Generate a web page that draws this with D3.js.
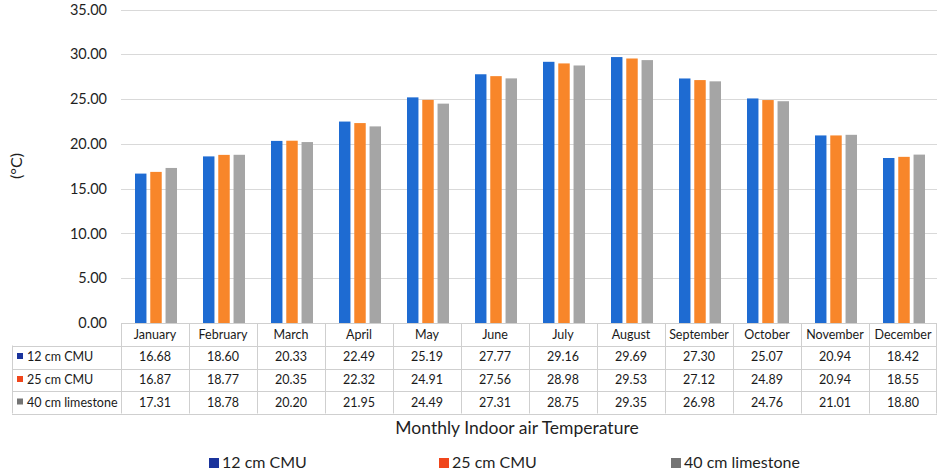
<!DOCTYPE html>
<html>
<head>
<meta charset="utf-8">
<script src="https://cdnjs.cloudflare.com/ajax/libs/d3/7.8.5/d3.min.js"></script>
<style>
  body { margin: 0; background: #fff; }
  svg { display: block; font-family: Lato, "Open Sans", sans-serif; }
</style>
</head>
<body>
<svg id="chart" width="941" height="472"></svg>
<script>
// data
var months = ["January", "February", "March", "April", "May", "June",
    "July", "August", "September", "October", "November", "December"];
var seriesNames = ["12 cm CMU", "25 cm CMU", "40 cm limestone"];
var cmu12 = [16.68, 18.60, 20.33, 22.49, 25.19, 27.77, 29.16, 29.69, 27.30, 25.07, 20.94, 18.42];
var cmu25 = [16.87, 18.77, 20.35, 22.32, 24.91, 27.56, 28.98, 29.53, 27.12, 24.89, 20.94, 18.55];
var lime40 = [17.31, 18.78, 20.20, 21.95, 24.49, 27.31, 28.75, 29.35, 26.98, 24.76, 21.01, 18.80];
var yTicks = [0, 5, 10, 15, 20, 25, 30, 35];

var barColors = ["#1e6bd2", "#f8862a", "#a5a5a5"];
var keyColors = ["#1a339c", "#f0461c", "#747474"];

var series = [cmu12, cmu25, lime40];

var svg = d3.select("#chart");
var plotLeft = 121, plotRight = 937, plotTop = 9.5, plotBottom = 323;

var x = d3.scaleBand().domain(months).range([plotLeft, plotRight]).paddingInner(0).paddingOuter(0);
var xInner = d3.scaleBand().domain(d3.range(3)).range([14, x.bandwidth() - 12]).paddingInner(0.25);
var y = d3.scaleLinear().domain([0, 35]).range([plotBottom, plotTop]);

// gridlines
svg.append("g").selectAll("line").data(yTicks.slice(1)).join("line")
    .attr("x1", plotLeft).attr("x2", plotRight)
    .attr("y1", function(d) { return Math.round(y(d)) + 0.5; })
    .attr("y2", function(d) { return Math.round(y(d)) + 0.5; })
    .attr("stroke", "#d9d9d9").attr("stroke-width", 1);

// y axis labels
var yAxis = d3.axisLeft(y).tickValues(yTicks).tickFormat(d3.format(".2f")).tickSize(0).tickPadding(0);
var ya = svg.append("g").attr("transform", "translate(107,0)").call(yAxis);
ya.select(".domain").remove();
ya.selectAll("text").attr("font-size", 14.5).attr("fill", "#1f1f1f")
    .attr("font-family", "Lato, sans-serif");

svg.append("text").attr("transform", "translate(22,166) rotate(-90)")
    .attr("text-anchor", "middle").attr("font-size", 16).attr("fill", "#1f1f1f")
    .text("(°C)");

// bars
series.forEach(function(vals, si) {
    svg.append("g").selectAll("rect").data(vals).join("rect")
        .attr("x", function(d, i) { return x(months[i]) + xInner(si); })
        .attr("width", xInner.bandwidth())
        .attr("y", function(d) { return y(d); })
        .attr("height", function(d) { return plotBottom - y(d); })
        .attr("fill", barColors[si]);
});

// data table
var tableLeft = 12;
var rowTops = [323, 345.5, 368.5, 391];
var tableBottom = 413.5;
var grid = svg.append("g").attr("stroke", "#cfcfcf").attr("stroke-width", 1).attr("fill", "none");

// horizontal lines
grid.append("line").attr("x1", plotLeft).attr("x2", plotRight).attr("y1", rowTops[0] + 0.5).attr("y2", rowTops[0] + 0.5);
rowTops.slice(1).concat([tableBottom]).forEach(function(ry) {
    grid.append("line").attr("x1", tableLeft).attr("x2", plotRight)
        .attr("y1", Math.round(ry) + 0.5).attr("y2", Math.round(ry) + 0.5);
});
// vertical lines
grid.append("line").attr("x1", tableLeft + 0.5).attr("x2", tableLeft + 0.5)
    .attr("y1", rowTops[1]).attr("y2", tableBottom);
months.forEach(function(m) {
    var xx = Math.round(x(m)) + 0.5;
    grid.append("line").attr("x1", xx).attr("x2", xx).attr("y1", rowTops[0]).attr("y2", tableBottom);
});
grid.append("line").attr("x1", plotRight - 0.5).attr("x2", plotRight - 0.5).attr("y1", rowTops[0]).attr("y2", tableBottom);

// header text
svg.append("g").selectAll("text").data(months).join("text")
    .attr("x", function(d) { return x(d) + x.bandwidth() / 2; })
    .attr("y", rowTops[0] + 15.5)
    .attr("text-anchor", "middle").attr("font-size", 12.5).attr("fill", "#1a1a1a")
    .text(function(d) { return d; });

// row text
series.forEach(function(vals, si) {
    var cy = rowTops[si + 1] + 15.5;
    svg.append("rect").attr("x", 17).attr("y", cy - 8).attr("width", 6).attr("height", 6)
        .attr("fill", keyColors[si]);
    svg.append("text").attr("x", 27).attr("y", cy)
        .attr("font-size", 12.5).attr("fill", "#1a1a1a").text(seriesNames[si]);
    svg.append("g").selectAll("text").data(vals).join("text")
        .attr("x", function(d, i) { return x(months[i]) + x.bandwidth() / 2; })
        .attr("y", cy)
        .attr("text-anchor", "middle").attr("font-size", 12.5).attr("fill", "#1a1a1a")
        .text(function(d) { return d3.format(".2f")(d); });
});

// axis title
svg.append("text").attr("x", 517).attr("y", 434)
    .attr("text-anchor", "middle").attr("font-size", 17.5).attr("fill", "#1f1f1f")
    .text("Monthly Indoor air Temperature");

// legend
var legendX = [209, 439, 671];
seriesNames.forEach(function(name, si) {
    svg.append("rect").attr("x", legendX[si]).attr("y", 458).attr("width", 10).attr("height", 10)
        .attr("fill", keyColors[si]);
    svg.append("text").attr("x", legendX[si] + 13).attr("y", 468)
        .attr("font-size", 16).attr("fill", "#1f1f1f").text(name);
});
</script>
</body>
</html>
